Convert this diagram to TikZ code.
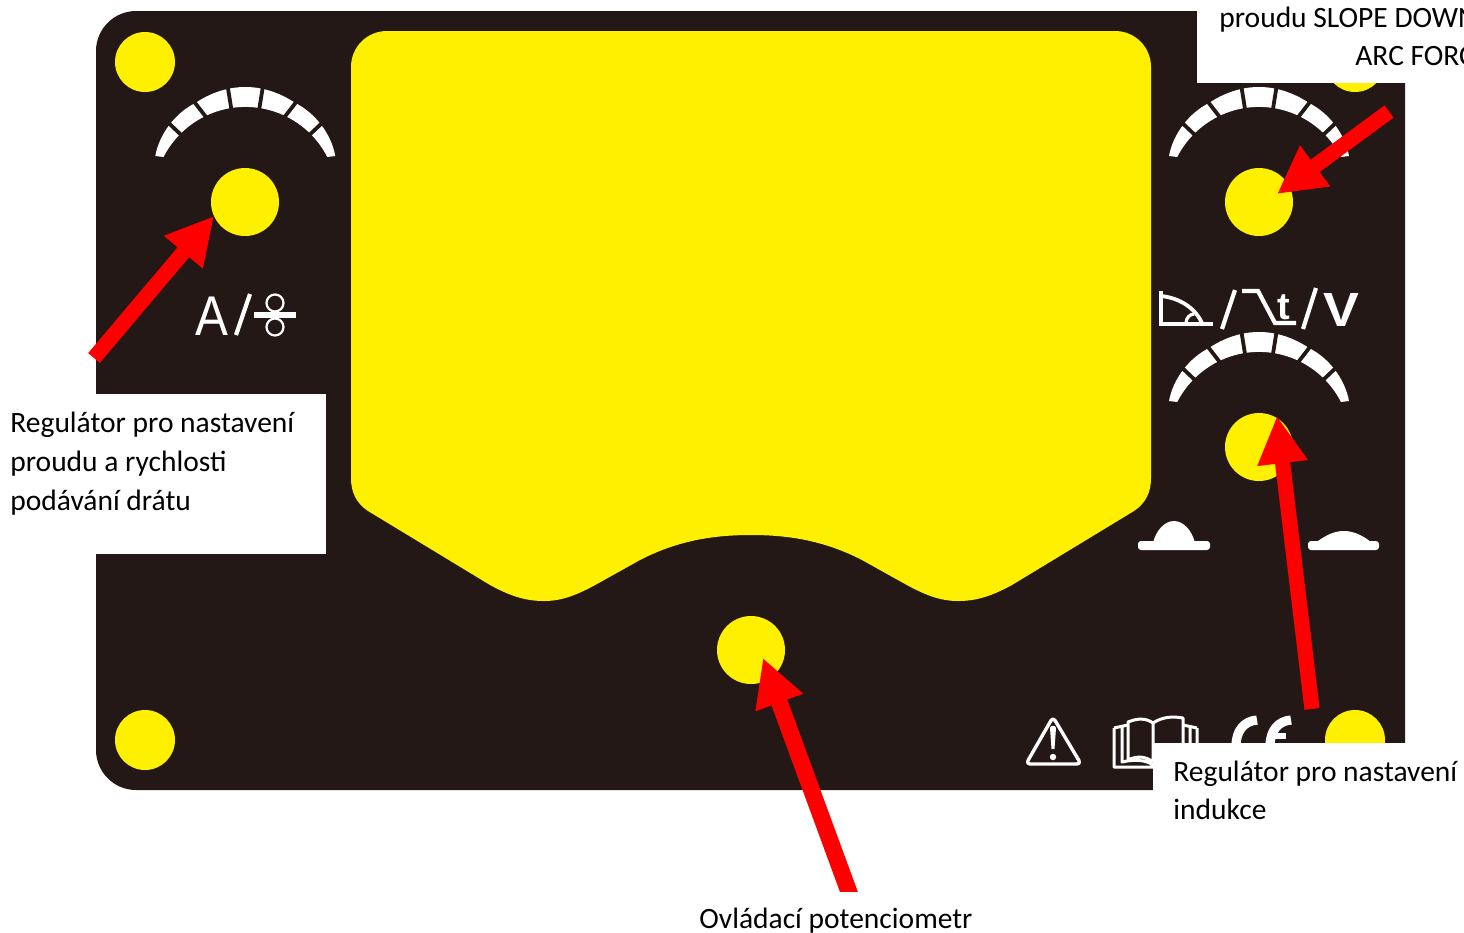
\documentclass[tikz,border=0pt]{standalone}
\usepackage{graphicx}
\usepackage{fontspec}
\setmainfont{Carlito}
\newfontfamily\iconfont{Liberation Sans}
\usetikzlibrary{arrows.meta}
\definecolor{panelc}{HTML}{231815}
\definecolor{yel}{HTML}{FFF000}
\tikzset{
  knob/.style={circle,fill=yel,inner sep=0pt,minimum size=#1},
  label/.style={anchor=base west,inner sep=0pt,font=\fontsize{14.75}{17}\selectfont,text=black},
  whitebox/.style={fill=white,draw=none},
  ink/.style={draw=white,line width=2.1pt,fill=none},
  redarrow/.style={draw=red,line width=7.6pt,-{Triangle[length=23.7pt,width=23.7pt,fill=red]}},
}
\newcommand{\dialmark}[2]{%
  \begin{scope}[shift={(#1,#2)}]
    \fill[white] (-90,-46) .. controls (-86,-68) and (-70,-89) .. (-50,-99)
      .. controls (-35,-109) and (-18,-115) .. (0,-115)
      .. controls (18,-115) and (35,-109) .. (50,-99)
      .. controls (70,-89) and (86,-68) .. (90,-46)
      -- (82,-45) arc[start angle=332.9,end angle=207.1,radius=92] -- cycle;
    \draw[panelc,line width=1.9pt]
      (-18,-118) -- (-13.5,-90) (18,-118) -- (13.5,-90)
      (-54,-104) -- (-37,-82) (54,-104) -- (37,-82)
      (-82,-84) -- (-63,-66) (82,-84) -- (63,-66);
  \end{scope}}
\begin{document}
\begin{tikzpicture}[x=0.5pt,y=-0.5pt]
\useasboundingbox (0,0) rectangle (1464,933);
\begin{scope}
\clip (0,0) rectangle (1464,933);
\fill[white] (0,0) rectangle (1464,933);
% panel
\fill[panelc] (136,11) -- (1405,11) -- (1405,790) -- (136,790)
  .. controls (114,790) and (96,772) .. (96,750) -- (96,51)
  .. controls (96,29) and (114,11) .. (136,11) -- cycle;
% display
\fill[yel] (387,31) -- (1115,31) .. controls (1135,31) and (1151,47) .. (1151,67)
  -- (1151,478) .. controls (1151,492) and (1146,503) .. (1134,511)
  -- (1012,585) .. controls (990,597) and (975,601) .. (958,601)
  .. controls (940,601) and (925,595) .. (905,584)
  -- (862,560) .. controls (825,541) and (790,535) .. (751,535)
  .. controls (712,535) and (677,541) .. (640,560)
  -- (597,584) .. controls (577,595) and (562,601) .. (544,601)
  .. controls (527,601) and (512,597) .. (490,585)
  -- (368,511) .. controls (356,503) and (351,492) .. (351,478)
  -- (351,67) .. controls (351,47) and (367,31) .. (387,31) -- cycle;
% knobs
\node[knob=30pt] (tl) at (145,62) {};
\node[knob=30pt] (tr) at (1355,62) {};
\node[knob=30pt] (bl) at (145,740) {};
\node[knob=30pt] (br) at (1355,740) {};
\node[knob=34pt] (kcurrent) at (245,202) {};
\node[knob=34pt] (kslope) at (1259,202) {};
\node[knob=34pt] (kinduct) at (1259,447) {};
\node[knob=34pt] (kmain) at (751,650) {};
% dials
\dialmark{245.3}{202}
\dialmark{1259}{202}
\dialmark{1259}{447}
% A / wire icon
\node[inner sep=0pt,anchor=base,text=white,font=\iconfont\fontsize{28}{30}\selectfont] (ampA) at (211.5,335) {\scalebox{.88}[1]{A}};
\draw[ink] (250,294) -- (236,335);
\fill[white] (254,312) rectangle (296,318);
\draw[white,line width=1.1pt] (275,303) circle[radius=8.5] (275,327) circle[radius=8.5];
% slope icons
\draw[ink,line cap=butt] (1213,324) -- (1161,324) -- (1161,291);
\draw[white,line width=1.9pt] (1161,296) .. controls (1180,298) and (1195,308) .. (1202,323);
\draw[white,line width=1.6pt] (1186,323) .. controls (1186,318) and (1190,314) .. (1194,314);
\draw[ink] (1235,290) -- (1222,329);
\draw[ink] (1242,291) -- (1258,291) -- (1275,323) -- (1296,323);
\node[inner sep=0pt,anchor=base,text=white,font=\iconfont\bfseries\fontsize{19}{21}\selectfont] (tsym) at (1284,319) {t};
\draw[ink] (1316,288) -- (1303,329);
\node[inner sep=0pt,anchor=base,text=white,font=\iconfont\bfseries\fontsize{24}{26}\selectfont] (vsym) at (1341,326) {\scalebox{1.12}[1]{V}};
% bead shapes
\fill[white,rounded corners=1.5pt] (1138,541) rectangle (1210,550);
\fill[white] (1153,543) .. controls (1156,530) and (1165,521) .. (1174,521) .. controls (1183,521) and (1192,530) .. (1195,543) -- cycle;
\fill[white,rounded corners=1.5pt] (1308,541) rectangle (1379,550);
\fill[white] (1315,543) .. controls (1325,536) and (1333,531) .. (1344,531) .. controls (1354,531) and (1364,536) .. (1372,543) -- cycle;
% warning
\draw[white,line width=1.7pt,line join=round,rounded corners=2pt] (1053,717) -- (1081,764) -- (1026,764) -- cycle;
\fill[white] (1050,728) .. controls (1050,725) and (1056,725) .. (1056,728) -- (1054.5,749) -- (1051.5,749) -- cycle;
\fill[white] (1053,757) circle[radius=3.2];
% book
\draw[white,line width=1.5pt,line join=round]
  (1128,760) -- (1128,722) .. controls (1138,718) and (1146,718) .. (1153,723) -- (1153,762)
  (1153,723) .. controls (1162,717) and (1172,716) .. (1183,718) -- (1183,760)
  (1128,760) .. controls (1138,755) and (1147,757) .. (1153,762)
  (1122,725) -- (1122,762) .. controls (1135,759) and (1146,760) .. (1153,765)
  (1114,728) -- (1114,767) -- (1153,767) -- (1197,767) -- (1197,728)
  (1114,728) -- (1128,725) (1197,728) -- (1183,725) (1190,725) -- (1190,762);
% CE
\draw[white,line width=4.6pt] (1257,720) .. controls (1244,721) and (1236,731) .. (1236,746);
\draw[white,line width=4.6pt] (1291,720) .. controls (1278,721) and (1270,731) .. (1270,746);
\fill[white] (1270,733) rectangle (1286,738.5);
% white boxes
\fill[whitebox] (1197,0) rectangle (1464,83);
\fill[whitebox] (0,394) rectangle (326,554);
\fill[whitebox] (1153,743) rectangle (1464,830);
% labels
\node[label] (ltop1) at (1219,27) {proudu SLOPE DOWN};
\node[label] (ltop2) at (1355,65) {ARC FORCE};
\node[label] (lcur1) at (10,432) {Regulátor pro nastavení};
\node[label] (lcur2) at (10,471) {proudu a rychlosti};
\node[label] (lcur3) at (10,510) {podávání drátu};
\node[label] (lind1) at (1173,781) {Regulátor pro nastavení};
\node[label] (lind2) at (1173,819) {indukce};
\node[label] (lmain) at (699,928) {Ovládací potenciometr};
% arrows
\coordinate (tailA) at (94,358);
\coordinate (tipA) at (214,216);
\coordinate (tailB) at (1389,111.5);
\coordinate (tipB) at (1277,194);
\coordinate (tailC) at (1312,709);
\coordinate (tipC) at (1277,416);
\coordinate (tailD) at (853,903);
\coordinate (tipD) at (763,658);
\draw[redarrow] (tailA) -- (tipA);
\draw[redarrow] (tailB) -- (tipB);
\draw[redarrow] (tailC) -- (tipC);
\begin{scope}
\clip (700,600) rectangle (900,891);
\draw[redarrow,line width=8.4pt] (tailD) -- (tipD);
\end{scope}
\end{scope}
\end{tikzpicture}
\end{document}
